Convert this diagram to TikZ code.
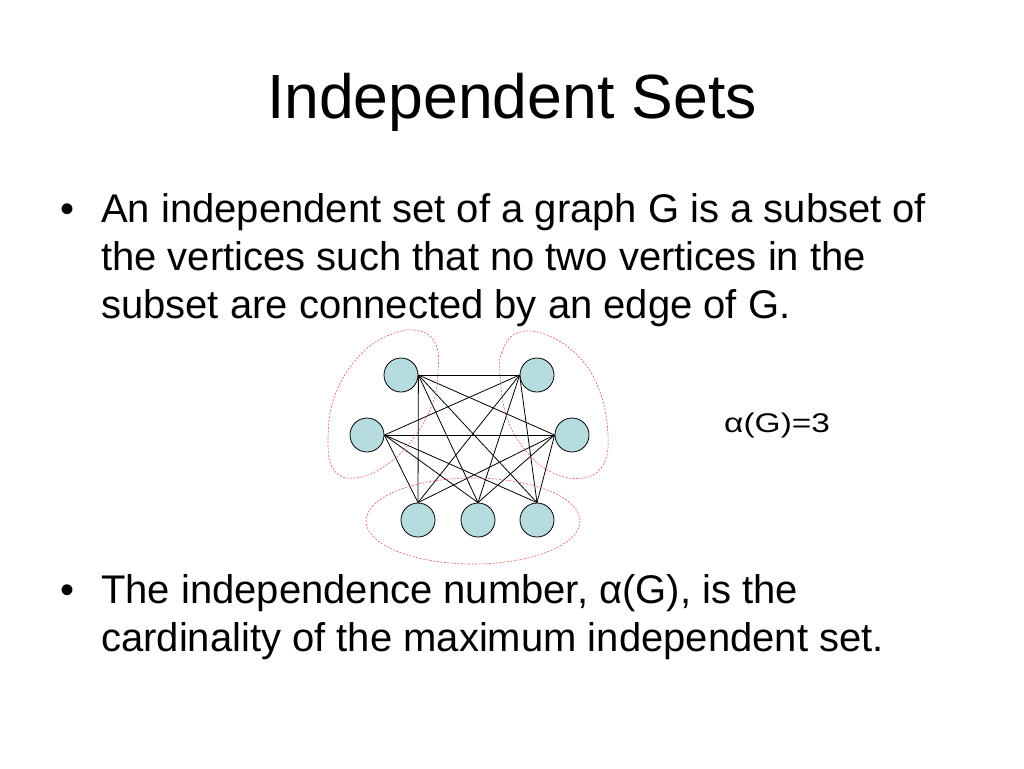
\documentclass[tikz,border=0pt]{standalone}
\usepackage{fontspec}
\setmainfont{Liberation Sans}
\definecolor{vertexfill}{RGB}{182,220,224}
\definecolor{setred}{RGB}{228,90,90}
\tikzset{
  vertex/.style={circle, draw=black, line width=0.8pt, fill=vertexfill, minimum size=34pt, inner sep=0pt},
  setline/.style={draw=setred, line width=0.6pt, dash pattern=on 2pt off 1.5pt},
  txt/.style={anchor=base west, inner sep=0pt, font=\fontsize{40}{48}\selectfont}
}
\begin{document}
\begin{tikzpicture}[x=1pt,y=-1pt]
  \useasboundingbox (0,0) rectangle (1024,768);

  % Titel
  \node[anchor=base, inner sep=0pt, font=\fontsize{62.5}{70}\selectfont] (title) at (512,118) {Independent Sets};

  % erster Punkt
  \node[txt] (bulA) at (60,222) {•};
  \node[txt] (lineA1) at (101,222) {An independent set of a graph G is a subset of};
  \node[txt] (lineA2) at (101,270) {the vertices such that no two vertices in the};
  \node[txt] (lineA3) at (101,318) {subset are connected by an edge of G.};

  % zweiter Punkt
  \node[txt] (bulB) at (60,603) {•};
  \node[txt] (lineB1) at (101,603) {The independence number, α(G), is the};
  \node[txt] (lineB2) at (101,651) {cardinality of the maximum independent set.};

  % Ecken
  \node[vertex] (tl) at (401,375) {};
  \node[vertex] (tr) at (537,375) {};
  \node[vertex] (ml) at (367,435) {};
  \node[vertex] (mr) at (572,435) {};
  \node[vertex] (b1) at (418,520) {};
  \node[vertex] (b2) at (478,520) {};
  \node[vertex] (b3) at (537,520) {};

  % Kanten
  \foreach \a/\p in {tl/east,ml/east,tr/west,mr/west}
    \foreach \b in {b1,b2,b3}
      \draw[line width=0.8pt] (\a.\p) -- (\b.north);
  \foreach \a in {tl,ml}
    \foreach \b in {tr,mr}
      \draw[line width=0.8pt] (\a.east) -- (\b.west);

  % unabhaengige Mengen
  \draw[setline] plot[smooth cycle, tension=0.7] coordinates {(420,331) (436,345) (438,372) (432,405) (412,440) (385,466) (355,478) (334,470) (328,440) (335,395) (360,355) (392,334)};
  \draw[setline] plot[smooth cycle, tension=0.7] coordinates {(517,333) (502,352) (500,375) (507,418) (527,452) (553,473) (583,478) (603,465) (608,435) (600,392) (580,358) (547,335)};
  \draw[setline] (473,521) ellipse[x radius=107, y radius=43];

  % Unabhaengigkeitszahl
  \node[anchor=base west, inner sep=0pt, font=\fontsize{27}{32}\selectfont] (alpha) at (724,432) {\scalebox{1.24}[1]{α(G)=3}};
\end{tikzpicture}
\end{document}
